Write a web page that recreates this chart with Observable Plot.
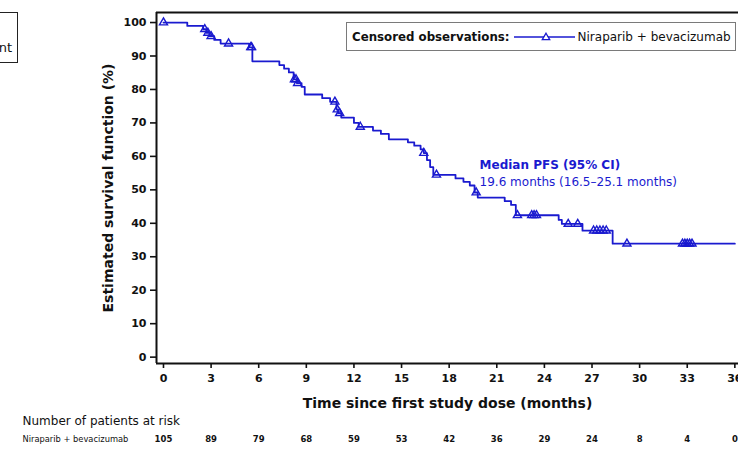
<!DOCTYPE html>
<html>
<head>
<meta charset="utf-8">
<script src="https://cdn.jsdelivr.net/npm/d3@7"></script>
<script src="https://cdn.jsdelivr.net/npm/@observablehq/plot@0.6"></script>
<style>
  body { margin: 0; background: #fff; font-family: "DejaVu Sans", sans-serif; }
  #wrap { position: relative; width: 738px; height: 450px; overflow: hidden; background: #fff; }
  #chart svg { display: block; }
  .legend {
    position: absolute; left: 346px; top: 22px; width: 390px; height: 29px;
    box-sizing: border-box; border: 1px solid #7a7a7a; background: #fff;
    display: flex; align-items: center; padding-left: 5px; white-space: nowrap; color: #111;
  }
  .legend b { font-size: 11.8px; font-weight: bold; }
  .legend svg { margin: 0 3px 0 4px; }
  .legend span { font-size: 12px; }
  .group-box {
    position: absolute; left: -90px; top: 12px; width: 108px; height: 51px;
    box-sizing: border-box; border: 1.5px solid #222; background: #fff;
    font-size: 13px; color: #111; text-align: right; padding-right: 5px; padding-top: 27px;
  }
</style>
</head>
<body>
<div id="wrap">
  <div id="chart"></div>
</div>
<script>
// Kaplan–Meier progression-free survival, niraparib + bevacizumab
const seriesName = "Niraparib + bevacizumab";
const groupLabel = "Treatment";

// Step function of the estimate: time (months) and survival (%)
const stepTimes = [0, 1.5, 2.5, 2.7, 2.9, 3.2, 3.6, 5.4, 5.6, 7.3, 7.6, 7.9, 8.2, 8.4, 8.7, 8.9,
  10.0, 10.5, 10.9, 11.0, 11.2, 12.0, 12.3, 13.2, 13.7, 14.2, 15.4, 15.8, 16.2, 16.4, 16.6, 16.8,
  17.0, 18.4, 18.9, 19.3, 19.6, 19.8, 21.5, 21.9, 22.2, 24.9, 25.1, 26.4, 28.3, 36.0];
const stepSurv = [100, 99.0, 98.0, 96.9, 95.9, 94.8, 93.7, 92.6, 88.4, 87.3, 86.2, 85.1, 83.0, 81.9, 80.8, 78.5,
  77.4, 76.3, 74.0, 72.9, 71.6, 70.0, 68.8, 67.7, 66.7, 65.1, 64.2, 63.2, 62.1, 61.0, 58.9, 56.8,
  54.5, 53.4, 52.4, 51.3, 49.2, 47.7, 46.6, 45.5, 42.4, 41.0, 39.8, 37.8, 33.9, 33.9];

// Censored observations
const censorTimes = [0, 2.6, 2.8, 3.0, 4.1, 5.5, 5.55, 8.25, 8.35, 8.45, 10.8, 10.95, 11.1, 12.4, 16.4, 17.2,
  19.7, 22.3, 23.2, 23.35, 23.5, 25.5, 26.1, 27.1, 27.3, 27.5, 27.7, 27.9, 29.2, 32.7, 32.85, 33.0, 33.15, 33.3];
const censorSurv = [100, 98.0, 96.9, 95.9, 93.7, 92.6, 92.6, 83.0, 83.0, 81.9, 76.3, 74.0, 72.9, 68.8, 61.0, 54.5,
  49.2, 42.4, 42.4, 42.4, 42.4, 39.8, 39.8, 37.8, 37.8, 37.8, 37.8, 37.8, 33.9, 33.9, 33.9, 33.9, 33.9, 33.9];

// Median PFS and its confidence interval
const medianPFS = 19.6;
const medianLow = 16.5;
const medianHigh = 25.1;

// Axes and number at risk
const xTicks = [0, 3, 6, 9, 12, 15, 18, 21, 24, 27, 30, 33, 36];
const yTicks = [0, 10, 20, 30, 40, 50, 60, 70, 80, 90, 100];
const atRisk = [105, 89, 79, 68, 59, 53, 42, 36, 29, 24, 8, 4, 0];

const xDomain = [-0.44, 36.23];
const yDomain = [-1.9, 103];
const blue = "#1a1acf";
const ink = "#111";

const km = stepTimes.map((t, i) => ({t, s: stepSurv[i]}));
const censored = censorTimes.map((t, i) => ({t, s: censorSurv[i]}));
const riskRow = xTicks.map((t, i) => ({t, n: atRisk[i]}));
const medianPoint = [{t: medianPFS, s: 50}];

const plot = Plot.plot({
  width: 738,
  height: 450,
  marginTop: 12,
  marginBottom: 87,
  marginLeft: 156,
  marginRight: 0,
  style: {fontFamily: "DejaVu Sans, sans-serif", background: "transparent", color: ink},
  x: {domain: xDomain},
  y: {domain: yDomain},
  marks: [
    Plot.axisY(yTicks, {tickSize: 6, tickPadding: 4, fontSize: 11, fontWeight: "bold", strokeWidth: 1.6, label: null}),
    Plot.axisX(xTicks, {tickSize: 5, tickPadding: 6, fontSize: 11, fontWeight: "bold", strokeWidth: 1.6, label: null}),
    Plot.ruleX([xDomain[0]], {stroke: ink, strokeWidth: 2}),
    Plot.ruleY([yDomain[0], yDomain[1]], {stroke: ink, strokeWidth: 2}),
    Plot.line(km, {x: "t", y: "s", curve: "step-after", stroke: blue, strokeWidth: 1.8}),
    Plot.dot(censored, {x: "t", y: "s", symbol: "triangle", r: 3, stroke: blue, strokeWidth: 1.4, fill: "none"}),
    // median annotation, anchored at the median time on the 50% line
    Plot.text(medianPoint, {x: "t", y: "s", text: () => "Median PFS (95% CI)", textAnchor: "start",
      dx: 5, dy: -24.5, fontSize: 12, fontWeight: "bold", fill: blue}),
    Plot.text(medianPoint, {x: "t", y: "s", textAnchor: "start", dx: 5, dy: -7.5, fontSize: 12, fill: blue,
      text: () => `${medianPFS} months (${medianLow}\u2013${medianHigh} months)`}),
    // axis titles
    Plot.text(["Estimated survival function (%)"], {frameAnchor: "left", textAnchor: "middle", rotate: -90, dx: -48,
      fontSize: 14, fontWeight: "bold", fill: ink}),
    Plot.text(["Time since first study dose (months)"], {frameAnchor: "bottom", dy: 44, fontSize: 14, fontWeight: "bold", fill: ink}),
    // number at risk table
    Plot.text(["Number of patients at risk"], {frameAnchor: "bottom-left", textAnchor: "start", dx: -134, dy: 61, fontSize: 12, fill: ink}),
    Plot.text([seriesName], {frameAnchor: "bottom-left", textAnchor: "start", dx: -134, dy: 78, fontSize: 8.3, fill: ink}),
    Plot.text(riskRow, {x: "t", text: "n", frameAnchor: "bottom", dy: 78, fontSize: 8.5, fontWeight: "bold", fill: ink})
  ]
});
document.getElementById("chart").append(plot);

// legend for censored observations
const legend = document.createElement("div");
legend.className = "legend";
legend.innerHTML = `<b>Censored observations:</b>
  <svg width="61" height="10" viewBox="0 0 61 10">
    <line x1="0" y1="5" x2="61" y2="5" stroke="${blue}" stroke-width="1.6"></line>
    <path d="${d3.symbol(d3.symbolTriangle, 24)()}" transform="translate(32,5.5)" fill="#fff" stroke="${blue}" stroke-width="1.3"></path>
  </svg><span></span>`;
legend.querySelector("span").textContent = seriesName;
document.getElementById("wrap").append(legend);

// partially visible group box at the top left
const box = document.createElement("div");
box.className = "group-box";
box.textContent = groupLabel;
document.getElementById("wrap").append(box);
</script>
</body>
</html>
